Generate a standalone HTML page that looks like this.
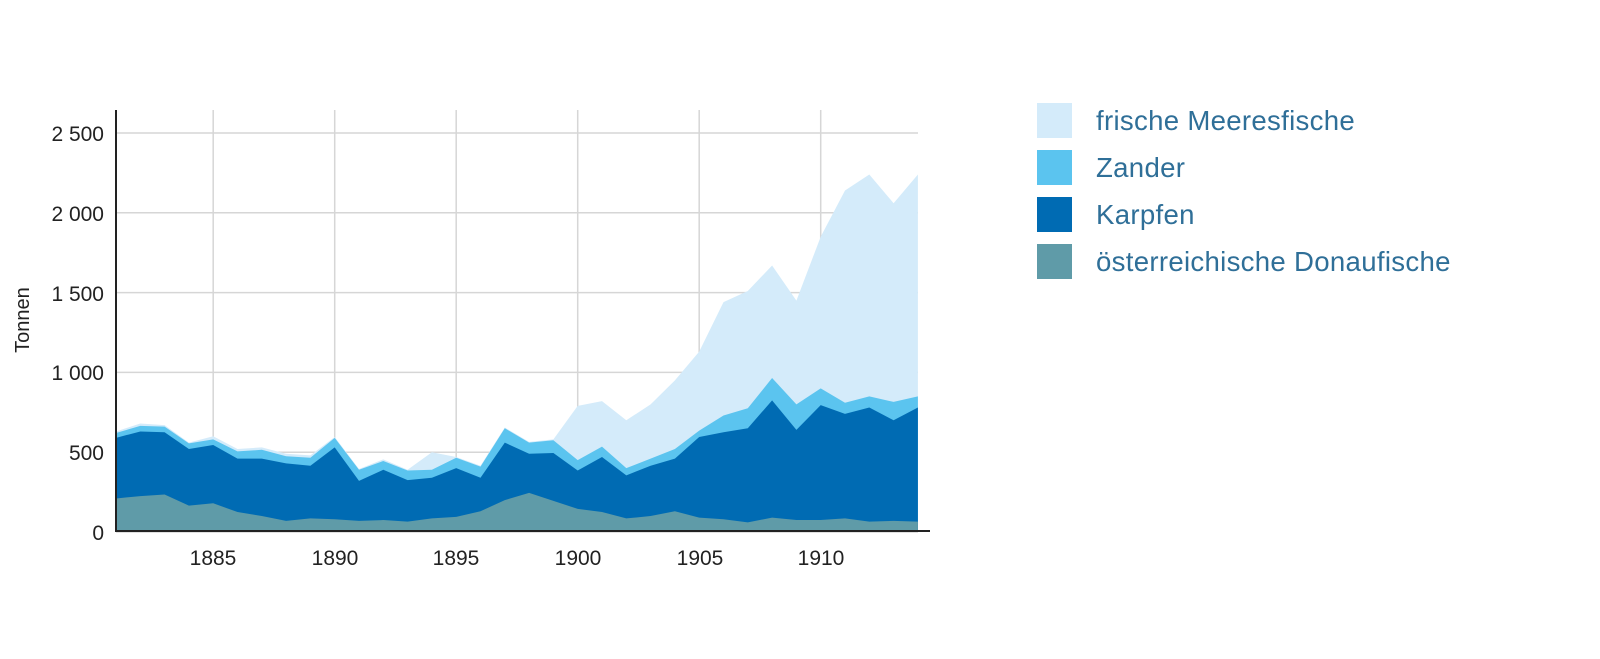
<!DOCTYPE html>
<html><head><meta charset="utf-8"><style>
body{margin:0;background:#fff;width:1600px;height:654px;overflow:hidden;font-family:"Liberation Sans",sans-serif}
</style></head><body>
<svg id="s" width="1600" height="654" xmlns="http://www.w3.org/2000/svg" font-family="Liberation Sans, sans-serif">
<g id="grid" stroke="#d6d6d6" stroke-width="1.5"></g>
<g id="areas"></g>
<line x1="116" y1="110" x2="116" y2="532" stroke="#222" stroke-width="2"/>
<line x1="115" y1="531" x2="930" y2="531" stroke="#222" stroke-width="2"/>
<g font-size="21" fill="#222" text-anchor="end">
<text x="104" y="540">0</text><text x="104" y="460">500</text><text x="104" y="380">1 000</text>
<text x="104" y="301">1 500</text><text x="104" y="221">2 000</text><text x="104" y="141">2 500</text>
</g>
<g font-size="21" fill="#222" text-anchor="middle">
<text x="213" y="565">1885</text><text x="335" y="565">1890</text><text x="456" y="565">1895</text>
<text x="578" y="565">1900</text><text x="700" y="565">1905</text><text x="821" y="565">1910</text>
</g>
<text transform="translate(29,320) rotate(-90)" font-size="20" fill="#222" text-anchor="middle">Tonnen</text>
<rect x="1037" y="103" width="35" height="35" fill="#d4ebfa"/>
<rect x="1037" y="150" width="35" height="35" fill="#5bc4ef"/>
<rect x="1037" y="197" width="35" height="35" fill="#006bb3"/>
<rect x="1037" y="244" width="35" height="35" fill="#5f9ba8"/>
<g font-size="27.6" fill="#2f6f98" letter-spacing="0.3">
<text x="1096" y="130">frische Meeresfische</text>
<text x="1096" y="177">Zander</text>
<text x="1096" y="224">Karpfen</text>
<text x="1096" y="271">österreichische Donaufische</text>
</g>
</svg>
<script>
var d=[210,225,235,165,180,125,100,70,85,80,70,75,65,85,95,130,200,245,195,145,125,85,100,130,90,80,60,90,75,75,85,65,70,65];
var k=[590,630,625,520,545,460,460,430,415,530,320,390,325,340,400,340,560,490,495,385,470,355,415,460,595,625,650,825,640,795,740,780,700,780];
var z=[620,665,660,555,580,505,515,475,465,590,390,445,385,390,465,410,650,560,575,450,535,400,460,520,635,730,775,965,800,900,810,850,815,850];
var m=[630,680,670,560,600,520,530,490,480,595,395,455,390,500,470,415,655,565,580,790,820,700,800,950,1130,1440,1510,1670,1450,1850,2140,2240,2060,2240];
function X(i){return 116+i*24.3}function Y(v){return 532-v*0.1596}
var ns="http://www.w3.org/2000/svg",g=document.getElementById('grid'),a=document.getElementById('areas');
[0,500,1000,1500,2000,2500].forEach(function(v){var l=document.createElementNS(ns,'line');l.setAttribute('x1',116);l.setAttribute('x2',918);l.setAttribute('y1',Y(v));l.setAttribute('y2',Y(v));g.appendChild(l)});
[4,9,14,19,24,29].forEach(function(i){var l=document.createElementNS(ns,'line');l.setAttribute('x1',X(i));l.setAttribute('x2',X(i));l.setAttribute('y1',110);l.setAttribute('y2',532);g.appendChild(l)});
function area(top,col){var p='M'+X(0)+','+Y(0);for(var i=0;i<top.length;i++)p+=' L'+X(i)+','+Y(top[i]);p+=' L'+X(top.length-1)+','+Y(0)+'Z';var e=document.createElementNS(ns,'path');e.setAttribute('d',p);e.setAttribute('fill',col);a.appendChild(e)}
area(m,'#d4ebfa');area(z,'#5bc4ef');area(k,'#006bb3');area(d,'#5f9ba8');
</script>
</body></html>
